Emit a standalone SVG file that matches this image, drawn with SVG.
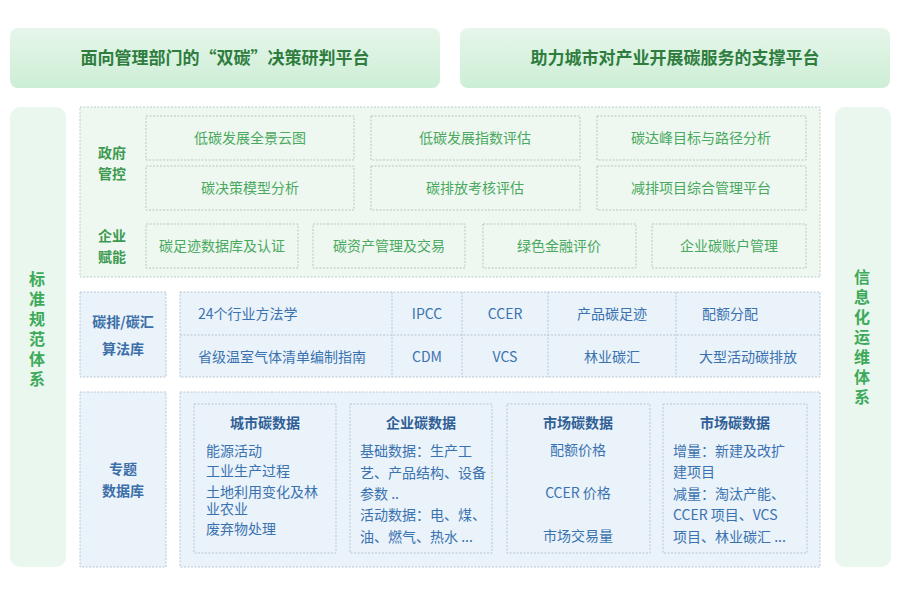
<svg xmlns="http://www.w3.org/2000/svg" width="897" height="593" viewBox="0 0 897 593">
<defs>
<linearGradient id="tg" x1="0" y1="0" x2="0" y2="1"><stop offset="0" stop-color="#e6f6ea"/><stop offset="1" stop-color="#cdeed6"/></linearGradient>
<style>
text{font-family:"Noto Sans CJK SC","Noto Sans",sans-serif}
.top{font-size:17px;font-weight:bold;fill:#2e7d3e;text-anchor:middle}
.side{fill:#eaf7ee}
.vt{font-size:16px;font-weight:bold;fill:#3daa5a;writing-mode:vertical-rl;text-anchor:middle}
.gp{fill:#eef8f0;stroke:#b9cfbf;stroke-dasharray:2 1.5}
.gb{fill:#eef8f0;stroke:#b5c8ba;stroke-dasharray:2 1.5}
.gl{font-size:14px;font-weight:bold;fill:#3d9a50;text-anchor:middle}
.gt{font-size:14px;fill:#4aa860;text-anchor:middle}
.bp{fill:#eaf2fa;stroke:#b8c6d4;stroke-dasharray:2 1.5}
.bl{font-size:14px;font-weight:bold;fill:#3a6fa8;text-anchor:middle}
.bt{font-size:14px;fill:#3a72b0}
.bh{font-size:14px;font-weight:bold;fill:#2f5f96;text-anchor:middle}
.ln{stroke:#b8c6d4;stroke-dasharray:2 1.5;fill:none}
</style>
</defs>
<rect width="897" height="593" fill="#fff"/>
<g id="top-left"><rect x="10" y="28" width="430" height="60" rx="8" fill="url(#tg)"/><text class="top" x="225" y="64">面向管理部门的“双碳”决策研判平台</text></g>
<g id="top-right"><rect x="460" y="28" width="430" height="60" rx="8" fill="url(#tg)"/><text class="top" x="675" y="64">助力城市对产业开展碳服务的支撑平台</text></g>
<g id="left-col"><rect class="side" x="10" y="107" width="56" height="460" rx="10"/>
<text class="vt" x="37" y="331" letter-spacing="4">标准规范体系</text></g>
<g id="right-col"><rect class="side" x="835" y="107" width="56" height="460" rx="10"/>
<text class="vt" x="862" y="339" letter-spacing="4">信息化运维体系</text></g>
<g id="green-panel"><rect class="gp" x="80" y="107" width="740" height="170"/>
<text class="gl" x="112" y="158">政府</text><text class="gl" x="112" y="179">管控</text>
<text class="gl" x="112" y="241">企业</text><text class="gl" x="112" y="262">赋能</text>
<rect class="gb" x="146" y="116" width="208" height="44"/><text class="gt" x="250" y="143">低碳发展全景云图</text>
<rect class="gb" x="371" y="116" width="209" height="44"/><text class="gt" x="475" y="143">低碳发展指数评估</text>
<rect class="gb" x="597" y="116" width="209" height="44"/><text class="gt" x="701" y="143">碳达峰目标与路径分析</text>
<rect class="gb" x="146" y="166" width="208" height="44"/><text class="gt" x="250" y="193">碳决策模型分析</text>
<rect class="gb" x="371" y="166" width="209" height="44"/><text class="gt" x="475" y="193">碳排放考核评估</text>
<rect class="gb" x="597" y="166" width="209" height="44"/><text class="gt" x="701" y="193">减排项目综合管理平台</text>
<rect class="gb" x="146" y="224" width="152" height="44"/><text class="gt" x="222" y="251">碳足迹数据库及认证</text>
<rect class="gb" x="313" y="224" width="152" height="44"/><text class="gt" x="389" y="251">碳资产管理及交易</text>
<rect class="gb" x="483" y="224" width="153" height="44"/><text class="gt" x="559" y="251">绿色金融评价</text>
<rect class="gb" x="652" y="224" width="154" height="44"/><text class="gt" x="729" y="251">企业碳账户管理</text></g>
<g id="algo"><rect class="bp" x="80" y="292" width="86" height="85"/>
<text class="bl" x="123" y="327">碳排/碳汇</text><text class="bl" x="123" y="354">算法库</text>
<rect class="bp" x="180" y="292" width="640" height="85"/>
<path class="ln" d="M180 335H820M392 292V377M462 292V377M548 292V377M676 292V377"/>
<text class="bt" x="198" y="319">24个行业方法学</text><text class="bt" x="198" y="362">省级温室气体清单编制指南</text>
<text class="bt" x="427" y="319" text-anchor="middle">IPCC</text><text class="bt" x="427" y="362" text-anchor="middle">CDM</text>
<text class="bt" x="505" y="319" text-anchor="middle">CCER</text><text class="bt" x="505" y="362" text-anchor="middle">VCS</text>
<text class="bt" x="612" y="319" text-anchor="middle">产品碳足迹</text><text class="bt" x="612" y="362" text-anchor="middle">林业碳汇</text>
<text class="bt" x="730" y="319" text-anchor="middle">配额分配</text><text class="bt" x="748" y="362" text-anchor="middle">大型活动碳排放</text></g>
<g id="db"><rect class="bp" x="80" y="392" width="86" height="175"/>
<text class="bl" x="123" y="474">专题</text><text class="bl" x="123" y="496">数据库</text>
<rect class="bp" x="180" y="392" width="640" height="175"/>
<rect class="bp" x="194" y="404" width="142" height="149"/>
<text class="bh" x="265" y="428">城市碳数据</text>
<text class="bt" x="206" y="456">能源活动</text><text class="bt" x="206" y="476">工业生产过程</text><text class="bt" x="206" y="497">土地利用变化及林</text><text class="bt" x="206" y="514">业农业</text><text class="bt" x="206" y="534">废弃物处理</text>
<rect class="bp" x="350" y="404" width="142" height="149"/>
<text class="bh" x="421" y="428">企业碳数据</text>
<text class="bt" x="360" y="456">基础数据：生产工</text><text class="bt" x="360" y="478">艺、产品结构、设备</text><text class="bt" x="360" y="499">参数 ..</text><text class="bt" x="360" y="520">活动数据：电、煤、</text><text class="bt" x="360" y="542">油、燃气、热水 ...</text>
<rect class="bp" x="507" y="404" width="143" height="149"/>
<text class="bh" x="578" y="428">市场碳数据</text>
<text class="bt" x="578" y="455" text-anchor="middle">配额价格</text><text class="bt" x="578" y="498" text-anchor="middle">CCER 价格</text><text class="bt" x="578" y="541" text-anchor="middle">市场交易量</text>
<rect class="bp" x="663" y="404" width="144" height="149"/>
<text class="bh" x="735" y="428">市场碳数据</text>
<text class="bt" x="673" y="456">增量：新建及改扩</text><text class="bt" x="673" y="477">建项目</text><text class="bt" x="673" y="499">减量：淘汰产能、</text><text class="bt" x="673" y="520">CCER 项目、VCS</text><text class="bt" x="673" y="542">项目、林业碳汇 ...</text></g>
<g id="connectors"/>
</svg>
